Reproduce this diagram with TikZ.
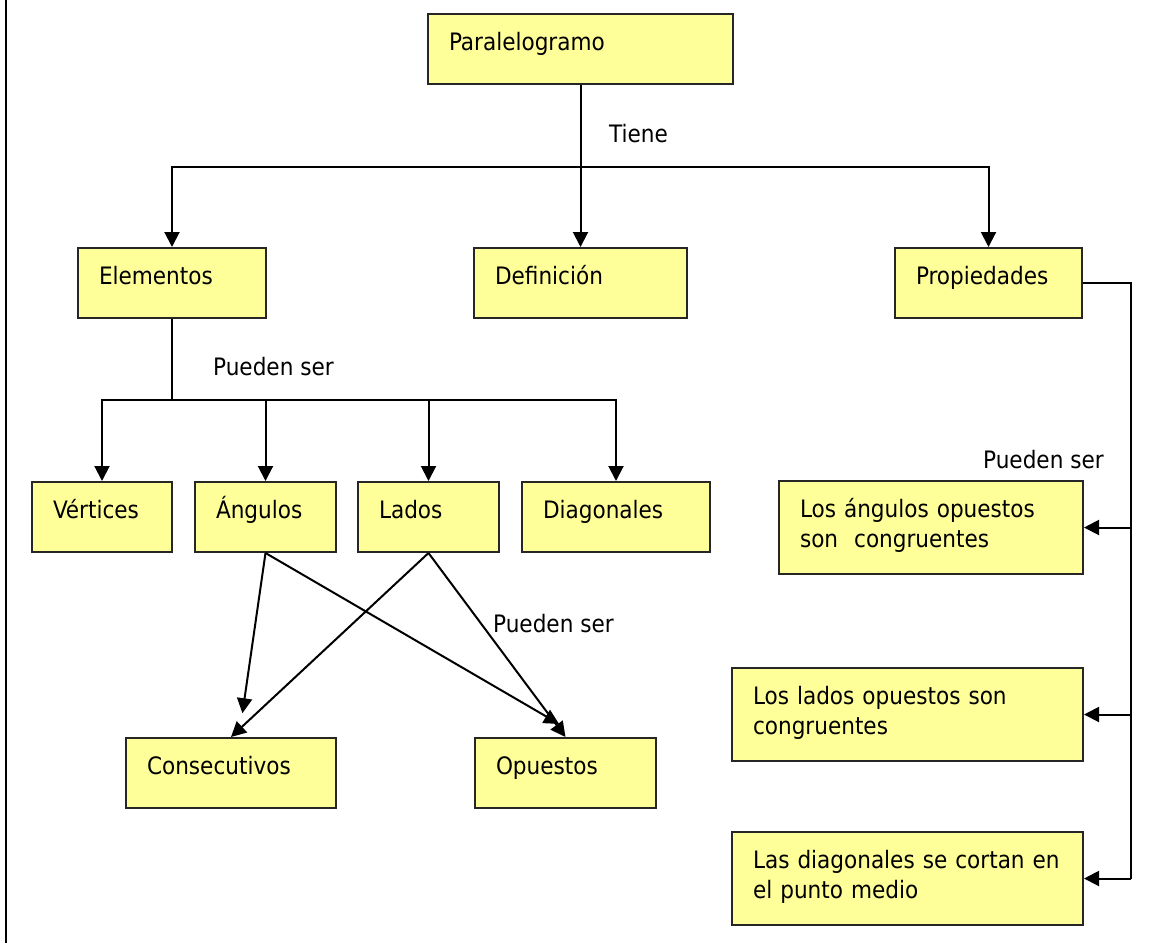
\documentclass[tikz,border=0pt]{standalone}
\usepackage{fontspec}
\setmainfont{DejaVu Sans Condensed}
\usetikzlibrary{positioning,arrows.meta,calc}
\definecolor{boxyellow}{HTML}{FFFF99}
\tikzstyle{box}   = [rectangle, draw=black!85, line width=2pt, fill=boxyellow,
                     align=left, inner xsep=21pt, inner ysep=0pt,
                     text height=36pt, text depth=34pt, font=\fontsize{24}{30}\selectfont]
\tikzstyle{pbox}  = [box, text depth=57pt]
\tikzstyle{link}  = [line width=2pt]
\tikzstyle{arrow} = [link, -{Triangle[length=15pt,width=15pt]}]
\tikzstyle{lbl}   = [anchor=base west, inner sep=0pt, font=\fontsize{24}{30}\selectfont]

\begin{document}
\begin{tikzpicture}[x=1pt,y=-1pt]
    \useasboundingbox (0,0) rectangle (1174,943);
    \draw[line width=2.5pt] (6,0) -- (6,943);

    % top levels
    \node[box, anchor=north west, text width=263pt] (par) at (427,13) {Paralelogramo};
    \node[box, anchor=north west, text width=146pt] (elem) at (77,247) {Elementos};
    \node[box, anchor=north west, text width=171pt] (def) at (473,247) {Definición};
    \node[box, anchor=north west, text width=145pt] (prop) at (894,247) {Propiedades};

    % elementos
    \node[box, anchor=north west, text width=98pt] (vert) at (31,481) {Vértices};
    \node[box, right=21pt of vert, text width=99pt] (ang) {Ángulos};
    \node[box, right=20pt of ang, text width=99pt] (lados) {Lados};
    \node[box, right=21pt of lados, text width=146pt] (diag) {Diagonales};
    \node[box, anchor=north west, text width=168pt] (cons) at (125,737) {Consecutivos};
    \node[box, anchor=north west, text width=139pt] (opu) at (474,737) {Opuestos};

    % propiedades
    \node[pbox, anchor=north west, text width=262pt] (lao) at (778,480) {Los ángulos opuestos\\son\ \ congruentes};
    \node[pbox, anchor=north west, text width=309pt] (llo) at (731,667) {Los lados opuestos son\\congruentes};
    \node[pbox, anchor=north west, text width=309pt] (ldc) at (731,831) {Las diagonales se cortan en\\el punto medio};

    \node[lbl] (tiene) at (609,142) {Tiene};
    \node[lbl] (ps1) at (213,375) {Pueden ser};
    \node[lbl] (ps2) at (493,632) {Pueden ser};
    \node[lbl] (ps3) at (983,468) {Pueden ser};

    \coordinate (bar1) at ($(par.south)+(0,82)$);
    \draw[link] (par.south) -- (bar1);
    \draw[arrow] (bar1) -| (elem);
    \draw[arrow] (bar1) -- (bar1 |- def.north);
    \draw[arrow] (bar1) -| (prop);

    \coordinate (bar2) at ($(elem.south)+(0,81)$);
    \draw[link] (elem.south) -- (bar2);
    \draw[arrow] (bar2) -| (vert);
    \draw[arrow] (bar2) -| (ang);
    \draw[arrow] (bar2) -| (lados);
    \draw[arrow] (bar2) -| (diag);

    \draw[arrow, shorten >=24pt] (ang.south) -- ([xshift=8pt]cons.north);
    \draw[arrow, shorten >=26pt] (ang.south) -- ([xshift=16pt]opu.north);
    \draw[arrow] (lados.south) -- (cons.north);
    \draw[arrow] (lados.south) -- (opu.north);

    \coordinate (rail) at ($(prop.east)+(48,0)$);
    \draw[link] (prop.east) -- (rail) -- (rail |- ldc);
    \draw[arrow] (rail |- lao) -- (lao);
    \draw[arrow] (rail |- llo) -- (llo);
    \draw[arrow] (rail |- ldc) -- (ldc);
\end{tikzpicture}
\end{document}
